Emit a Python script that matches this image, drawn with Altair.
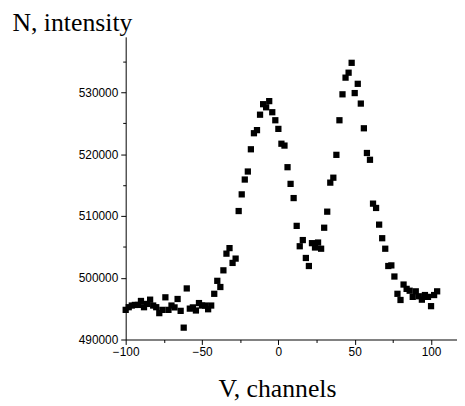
import altair as alt
import pandas as pd

channels = list(range(-100, 105, 2))
intensity = [
    494800, 495230, 495500, 495600, 495600, 496240, 495230, 495760, 496450, 495500,
    495230, 494270, 494800, 496830, 494800, 495500, 495200, 496560, 494640, 491920,
    498270, 495000, 495200, 494700, 495900, 495500, 495500, 494900, 495500, 497400,
    499500, 498500, 501200, 503900, 504800, 502400, 503100, 510800, 513500, 515900,
    517200, 520800, 523400, 523900, 526400, 528100, 527600, 528600, 526800, 525500,
    524100, 521700, 521400, 517900, 515200, 512900, 508400, 505100, 506100, 503200,
    501900, 505600, 504900, 505700, 504700, 508100, 510700, 515400, 516200, 519900,
    525500, 529700, 532400, 533200, 534800, 529900, 531400, 528200, 524200, 520200,
    519100, 512000, 511300, 508600, 506400, 504700, 501900, 502000, 500200, 497400,
    496400, 498900, 498200, 497900, 496900, 497800, 497000, 496450, 497200, 496900,
    495400, 497200, 497800,
]
n = min(len(channels), len(intensity))
df = pd.DataFrame({"V": channels[:n], "N": intensity[:n]})

x_ticks = [-100, -75, -50, -25, 0, 25, 50, 75, 100]
y_ticks = list(range(490000, 540000, 5000))

chart = alt.Chart(df).mark_square(size=40, color="black", opacity=1).encode(
    x=alt.X(
        "V:Q",
        scale=alt.Scale(domain=[-100, 117], nice=False, zero=False),
        axis=alt.Axis(
            values=x_ticks,
            labelExpr="datum.value % 50 == 0 ? datum.label : ''",
            format="d",
            grid=False,
            domainColor="black",
            domainWidth=1,
            tickColor="black",
            tickWidth=1,
            tickSize={"condition": {"test": "datum.value % 50 == 0", "value": 5}, "value": 3},
            labelFont="Liberation Sans",
            labelFontSize=12,
            labelColor="black",
            labelPadding=2,
            labelFlush=False,
            labelOverlap=False,
            title="V, channels",
            titleFont="Liberation Serif",
            titleFontSize=26,
            titleFontWeight="normal",
            titleColor="black",
            titleX=153,
            titleY=58,
            titleAlign="center",
            titleBaseline="alphabetic",
        ),
    ),
    y=alt.Y(
        "N:Q",
        scale=alt.Scale(domain=[490000, 539000], nice=False, zero=False),
        axis=alt.Axis(
            values=y_ticks,
            labelExpr="datum.value % 10000 == 0 ? datum.label : ''",
            format="d",
            grid=False,
            domainColor="black",
            domainWidth=1,
            tickColor="black",
            tickWidth=1,
            tickSize={"condition": {"test": "datum.value % 10000 == 0", "value": 5}, "value": 3},
            labelFont="Liberation Sans",
            labelFontSize=12,
            labelColor="black",
            labelPadding=3,
            labelFlush=False,
            labelOverlap=False,
            title="N, intensity",
            titleFont="Liberation Serif",
            titleFontSize=26,
            titleFontWeight="normal",
            titleColor="black",
            titleAngle=0,
            titleX=-115,
            titleY=-6,
            titleAlign="left",
            titleBaseline="alphabetic",
        ),
    ),
).properties(
    width=335,
    height=306,
    autosize=alt.AutoSizeParams(type="none"),
    padding={"left": 119, "top": 27, "right": 0, "bottom": 62},
).configure_view(stroke=None)

chart.save("out.html", embed_options={"renderer": "svg", "actions": False})
